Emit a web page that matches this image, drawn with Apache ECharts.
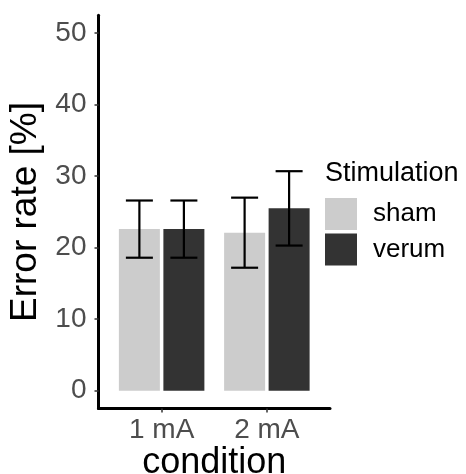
<!DOCTYPE html>
<html><head><meta charset="utf-8">
<script src="https://cdn.jsdelivr.net/npm/echarts@6/dist/echarts.min.js"></script>
<style>html,body{margin:0;padding:0;background:#fff}#c{width:466px;height:474px}</style>
</head><body><div id="c"></div>
<script>
const categories = ['1 mA', '2 mA'];
const groups = ['sham', 'verum'];
const shamMean = [22.6, 22.1];
const verumMean = [22.6, 25.5];
const shamLow = [18.6, 17.2];
const shamHigh = [26.6, 27.0];
const verumLow = [18.6, 20.3];
const verumHigh = [26.6, 30.7];
const yTicks = [0, 10, 20, 30, 40, 50];
const xPos = [1, 2];

const FONT = 'Liberation Sans, Arial, sans-serif';
const BAR_W = 41, BAR_GAP = 3.5;
const DODGE = (BAR_W + BAR_GAP) / 2;

function errRender(offset) {
  return function (params, api) {
    const x = api.value(0), lo = api.value(1), hi = api.value(2);
    const pLo = api.coord([x, lo]), pHi = api.coord([x, hi]);
    const cx = pLo[0] + offset, hw = 13.5;
    const st = { stroke: '#000', lineWidth: 2.2 };
    return { type: 'group', children: [
      { type: 'line', shape: { x1: cx, y1: pHi[1], x2: cx, y2: pLo[1] }, style: st },
      { type: 'line', shape: { x1: cx - hw, y1: pHi[1], x2: cx + hw, y2: pHi[1] }, style: st },
      { type: 'line', shape: { x1: cx - hw, y1: pLo[1], x2: cx + hw, y2: pLo[1] }, style: st }
    ]};
  };
}

const chart = echarts.init(document.getElementById('c'), null, { renderer: 'canvas' });
chart.setOption({
  animation: false,
  backgroundColor: '#fff',
  textStyle: { fontFamily: FONT },
  grid: { left: 98.5, right: 136, top: 15.3, bottom: 65.4, outerBoundsMode: 'none', containLabel: false },
  graphic: [{
    type: 'text', left: 325, top: 160,
    style: { text: 'Stimulation', fontSize: 27, fontFamily: FONT, fill: '#000' }
  }],
  legend: {
    data: groups, orient: 'vertical', left: 325, top: 198, padding: 0,
    itemWidth: 32, itemHeight: 32, itemGap: 3.5, icon: 'rect',
    textStyle: { fontSize: 26, color: '#000', fontFamily: FONT, padding: [0, 0, 0, 11] },
    selectedMode: false
  },
  xAxis: {
    type: 'value', min: 0.4, max: 2.6,
    name: 'condition', nameLocation: 'middle', nameGap: 36, nameMoveOverlap: false,
    nameTextStyle: { fontSize: 36, color: '#000', fontFamily: FONT },
    axisLine: { show: true, onZero: false, lineStyle: { color: '#000', width: 3 } },
    axisTick: { show: true, length: 4, customValues: xPos, lineStyle: { color: '#333', width: 1.5 } },
    axisLabel: { customValues: xPos, margin: 8, fontSize: 28, color: '#4D4D4D', fontFamily: FONT,
      formatter: v => categories[Math.round(v) - 1] },
    splitLine: { show: false }
  },
  yAxis: {
    type: 'value', min: -2.5, max: 52.5,
    name: 'Error rate [%]', nameLocation: 'middle', nameGap: 54, nameMoveOverlap: false,
    nameTextStyle: { fontSize: 37, color: '#000', fontFamily: FONT },
    axisLine: { show: true, onZero: false, lineStyle: { color: '#000', width: 3 } },
    axisTick: { show: true, length: 4, customValues: yTicks, lineStyle: { color: '#333', width: 1.5 } },
    axisLabel: { customValues: yTicks, margin: 12, fontSize: 28, color: '#4D4D4D', fontFamily: FONT },
    splitLine: { show: false }
  },
  series: [
    { name: 'sham', type: 'bar', barWidth: BAR_W, barGap: (BAR_GAP / BAR_W * 100) + '%',
      itemStyle: { color: '#CCCCCC' },
      data: xPos.map((x, i) => [x, shamMean[i]]) },
    { name: 'verum', type: 'bar', barWidth: BAR_W,
      itemStyle: { color: '#333333' },
      data: xPos.map((x, i) => [x, verumMean[i]]) },
    { name: 'sham_err', type: 'custom', renderItem: errRender(-DODGE), z: 5,
      data: xPos.map((x, i) => [x, shamLow[i], shamHigh[i]]) },
    { name: 'verum_err', type: 'custom', renderItem: errRender(DODGE), z: 5,
      data: xPos.map((x, i) => [x, verumLow[i], verumHigh[i]]) }
  ]
});
</script></body></html>
